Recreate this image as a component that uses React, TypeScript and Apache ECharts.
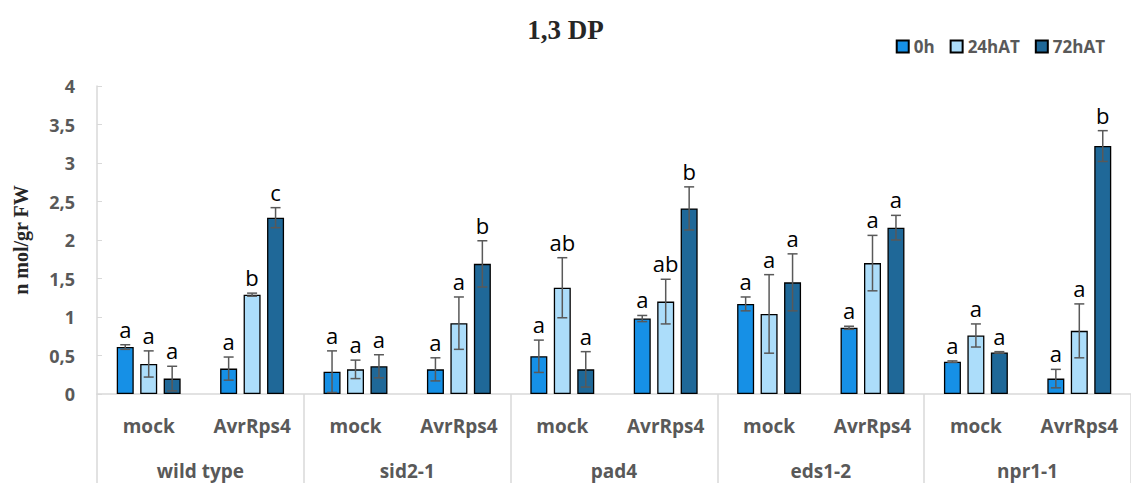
import React, { useEffect, useRef } from 'react';
import * as echarts from 'echarts';

const subCategories = ['mock', 'AvrRps4', 'mock', 'AvrRps4', 'mock', 'AvrRps4', 'mock', 'AvrRps4', 'mock', 'AvrRps4'];
const groups = ['wild type', 'sid2-1', 'pad4', 'eds1-2', 'npr1-1'];
const seriesNames = ['0h', '24hAT', '72hAT'];

const mean0h = [0.61, 0.33, 0.29, 0.32, 0.49, 0.98, 1.17, 0.86, 0.42, 0.2];
const err0h = [0.03, 0.15, 0.27, 0.15, 0.21, 0.04, 0.09, 0.02, 0.01, 0.12];
const mean24h = [0.39, 1.29, 0.32, 0.92, 1.38, 1.2, 1.04, 1.7, 0.76, 0.82];
const err24h = [0.17, 0.02, 0.12, 0.34, 0.39, 0.29, 0.51, 0.36, 0.15, 0.35];
const mean72h = [0.2, 2.29, 0.36, 1.69, 0.32, 2.41, 1.45, 2.16, 0.54, 3.22];
const err72h = [0.16, 0.13, 0.15, 0.3, 0.23, 0.28, 0.37, 0.16, 0.01, 0.2];

const letters0h = ['a', 'a', 'a', 'a', 'a', 'a', 'a', 'a', 'a', 'a'];
const letters24h = ['a', 'b', 'a', 'a', 'ab', 'ab', 'a', 'a', 'a', 'a'];
const letters72h = ['a', 'c', 'a', 'b', 'a', 'b', 'a', 'a', 'a', 'b'];

const colors = ['#1690e6', '#acddfa', '#1f6898'];

const BAR_WIDTH = 17;
const BAR_GAP = 0.38;
const OFFSET = BAR_WIDTH * (1 + BAR_GAP);
const FONT = "'Open Sans', 'DejaVu Sans', sans-serif";
const SERIF = "'Liberation Serif', 'DejaVu Serif', serif";

export default function App() {
  const ref = useRef<HTMLDivElement>(null);
  useEffect(() => {
    document.body.style.margin = '0';
    const chart = echarts.init(ref.current!, null, { renderer: 'svg' });
    const means = [mean0h, mean24h, mean72h];
    const errs = [err0h, err24h, err72h];
    const letters = [letters0h, letters24h, letters72h];

    const barSeries = seriesNames.map((name, k) => ({
      type: 'bar',
      name,
      xAxisIndex: 0,
      yAxisIndex: 0,
      data: means[k],
      barWidth: BAR_WIDTH,
      barGap: `${BAR_GAP * 100}%`,
      itemStyle: { color: colors[k], borderColor: '#000', borderWidth: 1.3 },
    }));

    const errSeries = seriesNames.map((name, k) => ({
      type: 'custom',
      name: 'err-' + name,
      xAxisIndex: 0,
      yAxisIndex: 0,
      z: 10,
      data: means[k].map((m, i) => [i, m, errs[k][i]]),
      encode: { x: 0, y: 1 },
      renderItem: (params: any, api: any) => {
        const i = api.value(0);
        const m = api.value(1);
        const e = api.value(2);
        const p = api.coord([i, m]);
        const x = p[0] + (k - 1) * OFFSET;
        const yt = api.coord([i, m + e])[1];
        const yb = api.coord([i, Math.max(0, m - e)])[1];
        const style = { stroke: '#595959', lineWidth: 1.5 };
        return {
          type: 'group',
          children: [
            { type: 'line', shape: { x1: x, y1: yt, x2: x, y2: yb }, style },
            { type: 'line', shape: { x1: x - 5, y1: yt, x2: x + 5, y2: yt }, style },
            { type: 'line', shape: { x1: x - 5, y1: yb, x2: x + 5, y2: yb }, style },
            {
              type: 'text',
              x,
              y: yt - 5,
              style: {
                text: letters[k][params.dataIndex],
                fill: '#000',
                fontSize: 22,
                fontFamily: FONT,
                align: 'center',
                verticalAlign: 'bottom',
              },
            },
          ],
        };
      },
    }));

    const gridBox = { left: 97, right: -12, top: 86, bottom: 89 };

    chart.setOption({
      animation: false,
      title: {
        text: '1,3 DP',
        left: 'center',
        top: 11,
        textStyle: { fontFamily: SERIF, fontWeight: 'bold', fontSize: 27, color: '#262626' },
      },
      legend: {
        data: seriesNames,
        right: 21,
        top: 33,
        icon: 'rect',
        itemWidth: 12,
        itemHeight: 12,
        itemGap: 15,
        textStyle: { fontFamily: FONT, fontWeight: 'bold', fontSize: 17, color: '#595959' },
      },
      grid: [
        { ...gridBox, containLabel: false },
        { ...gridBox, containLabel: false },
      ],
      xAxis: [
        {
          type: 'category',
          gridIndex: 0,
          data: subCategories,
          axisLine: { show: true, lineStyle: { color: '#d9d9d9', width: 1.5 } },
          axisTick: { show: false },
          axisLabel: {
            interval: 0,
            margin: 22,
            fontFamily: FONT,
            fontWeight: 'bold',
            fontSize: 19,
            color: '#595959',
          },
        },
        {
          type: 'category',
          gridIndex: 1,
          data: groups,
          position: 'bottom',
          axisLine: { show: false },
          axisTick: { show: true, length: 100, lineStyle: { color: '#d9d9d9', width: 1.5 } },
          axisLabel: {
            interval: 0,
            margin: 67,
            fontFamily: FONT,
            fontWeight: 'bold',
            fontSize: 19,
            color: '#595959',
          },
        },
      ],
      yAxis: [
        {
          type: 'value',
          gridIndex: 0,
          min: 0,
          max: 4,
          interval: 0.5,
          name: 'n mol/gr FW',
          nameLocation: 'middle',
          nameRotate: 90,
          nameGap: 66,
          nameTextStyle: { fontFamily: SERIF, fontWeight: 'bold', fontSize: 20, color: '#262626' },
          axisLine: { show: true, lineStyle: { color: '#d9d9d9', width: 1.5 } },
          axisTick: { show: true, inside: true, length: 5, lineStyle: { color: '#d9d9d9' } },
          splitLine: { show: false },
          axisLabel: {
            margin: 22,
            fontFamily: FONT,
            fontWeight: 'bold',
            fontSize: 18,
            color: '#595959',
            formatter: (v: number) => String(v).replace('.', ','),
          },
        },
        { type: 'value', gridIndex: 1, show: false, min: 0, max: 4 },
      ],
      series: [...barSeries, ...errSeries],
    });
    return () => chart.dispose();
  }, []);
  return <div ref={ref} style={{ width: 1131, height: 483 }} />;
}
